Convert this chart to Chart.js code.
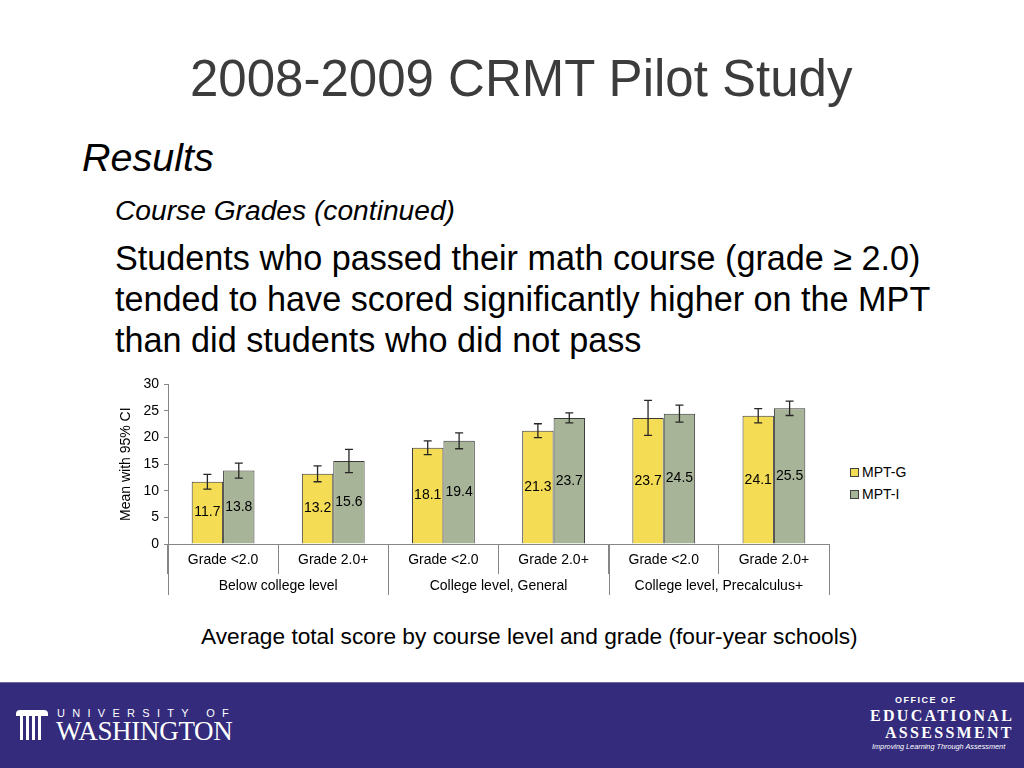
<!DOCTYPE html>
<html>
<head>
<meta charset="utf-8">
<script src="https://cdn.jsdelivr.net/npm/chart.js@4/dist/chart.umd.min.js"></script>
<style>
  html, body { margin: 0; padding: 0; }
  body { width: 1024px; height: 768px; position: relative; overflow: hidden; background: #fff;
         font-family: "Liberation Sans", Arial, sans-serif; color: #000; }
  .abs { position: absolute; white-space: nowrap; }
  #title { left: 190px; top: 50px; font-size: 51px; line-height: 1.15; color: #3c3c3c; }
  #results { left: 82px; top: 135px; font-size: 39.5px; line-height: 1.15; font-style: italic; }
  #sub { left: 115px; top: 194px; font-size: 28.2px; line-height: 1.15; font-style: italic; }
  #body { left: 115px; top: 238px; font-size: 34.2px; line-height: 41px; }
  #caption { left: 201px; top: 623px; font-size: 22.7px; line-height: 26px; }
  #chartBox { position: absolute; left: 114px; top: 371px; width: 721px; height: 229px; }
  #legend { position: absolute; left: 850px; top: 461px; font-size: 14px; line-height: 22px; }
  #legend .item { display: flex; align-items: center; }
  #legend .box { width: 7px; height: 7px; border: 1px solid #404040; margin-right: 3px; }
  #footer { position: absolute; left: 0; top: 682px; width: 1024px; height: 86px; background: #342b7c;
            border-top: 1px solid #6f6a9e; color: #fff; }
  .uw1 { left: 57px; top: 24px; font-size: 11px; letter-spacing: 7.3px; }
  .uw2 { left: 56px; top: 33px; font-family: "Liberation Serif", serif; font-size: 27px; letter-spacing: -0.3px; }
  .oe1 { left: 895px; top: 12px; font-size: 9px; font-weight: bold; letter-spacing: 1.5px; }
  .oe2 { left: 870px; top: 24px; font-family: "Liberation Serif", serif; font-size: 16px; letter-spacing: 2.3px; font-weight: bold; }
  .oe3 { left: 885px; top: 41px; font-family: "Liberation Serif", serif; font-size: 16px; letter-spacing: 2.3px; font-weight: bold; }
  .oe4 { left: 872px; top: 59px; font-size: 7.3px; font-style: italic; }
  .col { position: absolute; background: #fff; }
</style>
</head>
<body>
<div id="title" class="abs">2008-2009 CRMT Pilot Study</div>
<div id="results" class="abs">Results</div>
<div id="sub" class="abs">Course Grades (continued)</div>
<div id="body" class="abs">Students who passed their math course (grade &#8805; 2.0)<br>tended to have scored significantly higher on the MPT<br>than did students who did not pass</div>
<div id="chartBox"><canvas id="chart"></canvas></div>
<div id="legend"></div>
<div id="caption" class="abs">Average total score by course level and grade (four-year schools)</div>
<div id="footer">
  <div class="col" style="left:16px;top:27px;width:32px;height:6px;border-radius:4px 4px 0 0;"></div>
  <div class="col" style="left:20px;top:33px;width:3px;height:24px;"></div>
  <div class="col" style="left:26px;top:33px;width:3px;height:24px;"></div>
  <div class="col" style="left:32px;top:33px;width:3px;height:24px;"></div>
  <div class="col" style="left:38px;top:33px;width:3px;height:24px;"></div>
  <div class="abs uw1">UNIVERSITY OF</div>
  <div class="abs uw2">WASHINGTON</div>
  <div class="abs oe1">OFFICE OF</div>
  <div class="abs oe2">EDUCATIONAL</div>
  <div class="abs oe3">ASSESSMENT</div>
  <div class="abs oe4">Improving Learning Through Assessment</div>
</div>
<script>
const grades = ['Grade <2.0', 'Grade 2.0+', 'Grade <2.0', 'Grade 2.0+', 'Grade <2.0', 'Grade 2.0+']
const groups = ['Below college level', 'College level, General', 'College level, Precalculus+']
const seriesNames = ['MPT-G', 'MPT-I']
const mptG = [11.7, 13.2, 18.1, 21.3, 23.7, 24.1]
const mptI = [13.8, 15.6, 19.4, 23.7, 24.5, 25.5]
// half-width of the 95% CI
const ciG = [1.4, 1.5, 1.3, 1.3, 3.3, 1.35]
const ciI = [1.4, 2.2, 1.5, 0.95, 1.6, 1.35]
const yTicks = [0, 5, 10, 15, 20, 25, 30]

const COLORS = ['#f4dc55', '#a8b498']
const AXIS = '#868686'
const FONT = '"Liberation Sans", Arial, sans-serif'

const errorBars = {
    id: 'errorBars',
    afterDatasetsDraw(chart) {
        const ctx = chart.ctx
        const y = chart.scales.y
        const cis = [ciG, ciI]
        ctx.save()
        ctx.strokeStyle = '#262626'
        ctx.lineWidth = 1.3
        chart.data.datasets.forEach((ds, di) => {
            chart.getDatasetMeta(di).data.forEach((bar, i) => {
                const top = y.getPixelForValue(ds.data[i] + cis[di][i])
                const bot = y.getPixelForValue(ds.data[i] - cis[di][i])
                ctx.beginPath()
                ctx.moveTo(bar.x, top); ctx.lineTo(bar.x, bot)
                ctx.moveTo(bar.x - 4, top); ctx.lineTo(bar.x + 4, top)
                ctx.moveTo(bar.x - 4, bot); ctx.lineTo(bar.x + 4, bot)
                ctx.stroke()
            })
        })
        ctx.restore()
    }
}

const valueLabels = {
    id: 'valueLabels',
    afterDatasetsDraw(chart) {
        const ctx = chart.ctx
        ctx.save()
        ctx.font = '14px ' + FONT
        ctx.fillStyle = '#000'
        ctx.textAlign = 'center'
        ctx.textBaseline = 'middle'
        chart.data.datasets.forEach((ds, di) => {
            chart.getDatasetMeta(di).data.forEach((bar, i) => {
                ctx.fillText(ds.data[i].toFixed(1), bar.x, (bar.y + bar.base) / 2)
            })
        })
        ctx.restore()
    }
}

const groupAxis = {
    id: 'groupAxis',
    afterDraw(chart) {
        const ctx = chart.ctx
        const x = chart.scales.x
        const area = chart.chartArea
        const step = x.getPixelForValue(1) - x.getPixelForValue(0)
        const edge = i => x.getPixelForValue(i) - step / 2
        const bottom = area.bottom + 51
        ctx.save()
        ctx.strokeStyle = AXIS
        ctx.lineWidth = 1
        for (let g = 0; g <= groups.length; g++) {
            const px = Math.round(edge(g * 2)) + 0.5
            ctx.beginPath()
            ctx.moveTo(px, area.bottom)
            ctx.lineTo(px, bottom)
            ctx.stroke()
        }
        ctx.font = '14px ' + FONT
        ctx.fillStyle = '#000'
        ctx.textAlign = 'center'
        ctx.textBaseline = 'middle'
        groups.forEach((name, g) => {
            ctx.fillText(name, (edge(g * 2) + edge(g * 2 + 2)) / 2, area.bottom + 42)
        })
        ctx.restore()
    }
}

const chart = new Chart(document.getElementById('chart'), {
    type: 'bar',
    data: {
        labels: grades,
        datasets: [
            { label: seriesNames[0], data: mptG, backgroundColor: COLORS[0], borderColor: '#3a3a3a', borderWidth: 1 },
            { label: seriesNames[1], data: mptI, backgroundColor: COLORS[1], borderColor: '#3a3a3a', borderWidth: 1 }
        ]
    },
    options: {
        responsive: true,
        maintainAspectRatio: false,
        animation: false,
        layout: { padding: { top: 10, right: 6, left: 0, bottom: 0 } },
        datasets: { bar: { categoryPercentage: 0.57, barPercentage: 1 } },
        plugins: {
            legend: { display: false },
            tooltip: { enabled: false }
        },
        scales: {
            x: {
                offset: true,
                grid: { offset: true, drawOnChartArea: false, drawTicks: true, tickLength: 30, color: AXIS },
                border: { display: true, color: AXIS },
                ticks: { font: { family: FONT, size: 14 }, color: '#000', padding: -22, maxRotation: 0 },
                afterFit: s => { s.height = 56 }
            },
            y: {
                min: 0,
                max: 30,
                afterBuildTicks: s => { s.ticks = yTicks.map(v => ({ value: v })) },
                grid: { drawOnChartArea: false, drawTicks: true, tickLength: 4, color: AXIS },
                border: { display: true, color: AXIS },
                ticks: { font: { family: FONT, size: 14 }, color: '#000', padding: 5 },
                title: { display: true, text: 'Mean with 95% CI', font: { family: FONT, size: 14 }, color: '#000', padding: 4 },
                afterFit: s => { s.width = 54 }
            }
        }
    },
    plugins: [errorBars, valueLabels, groupAxis]
})

// legend built from the datasets
document.getElementById('legend').innerHTML = chart.data.datasets.map(ds =>
    '<div class="item"><span class="box" style="background:' + ds.backgroundColor + '"></span>' + ds.label + '</div>'
).join('')
</script>
</body>
</html>
